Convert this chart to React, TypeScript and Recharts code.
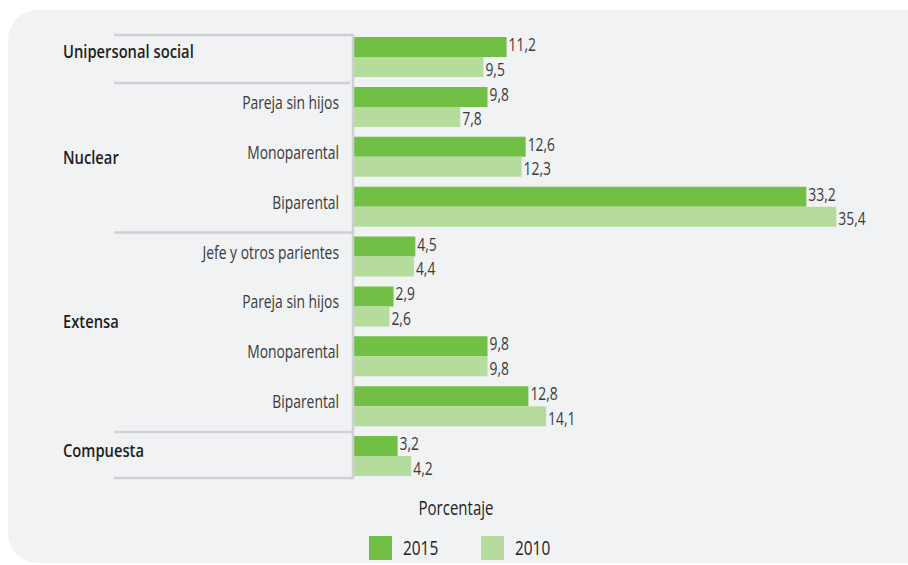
import React from "react";
import {
  BarChart,
  Bar,
  XAxis,
  YAxis,
  Legend,
  LabelList,
} from "recharts";

// rows from top to bottom
const groups = [
  "Unipersonal social",
  "Nuclear",
  "Nuclear",
  "Nuclear",
  "Extensa",
  "Extensa",
  "Extensa",
  "Extensa",
  "Compuesta",
];
const subtypes = [
  "",
  "Pareja sin hijos",
  "Monoparental",
  "Biparental",
  "Jefe y otros parientes",
  "Pareja sin hijos",
  "Monoparental",
  "Biparental",
  "",
];
const values2015 = [11.2, 9.8, 12.6, 33.2, 4.5, 2.9, 9.8, 12.8, 3.2];
const values2010 = [9.5, 7.8, 12.3, 35.4, 4.4, 2.6, 9.8, 14.1, 4.2];
const seriesNames = ["2015", "2010"];
const seriesColors = ["#71bf44", "#b6dc9d"];
const axisTitle = "Porcentaje";

const data = groups.map((g, i) => ({
  row: `r${i}`,
  group: g,
  subtype: subtypes[i],
  v2015: values2015[i],
  v2010: values2010[i],
}));

const W = 908;
const H = 565;
const PLOT_LEFT = 354;
const PLOT_TOP = 32;
const PLOT_H = 449;
const BAND = PLOT_H / data.length;
const LINE_X0 = 114;
const LINE_COLOR = "#cfd0d3";
const FONT = '"Open Sans", "Noto Sans", sans-serif';
const SX = 0.77; // squeeze to look like a condensed face
const SX_BOLD = 0.82;

// where the group name sits, relative to the anchor row's centre
const groupAnchor: Record<number, number> = { 0: 1.5, 2: 7.7, 5: 22, 8: 0.8 };

const fmt = (v: any) => String(v).replace(".", ",");

function Narrow(props: any) {
  const { x, y, anchor = "start", bold = false, size = 18, fill = "#333", children } = props;
  const s = bold ? SX_BOLD : SX;
  return (
    <text
      transform={`translate(${x},${y}) scale(${s},1)`}
      x={0}
      y={0}
      textAnchor={anchor}
      fill={fill}
      fontSize={size}
      fontWeight={bold ? 600 : 400}
      fontFamily={FONT}
    >
      {children}
    </text>
  );
}

function ValueLabel(props: any) {
  const { x, y, width, height, value, dy = 6 } = props;
  return (
    <Narrow x={x + width + 2} y={y + height / 2 + dy} size={18} fill="#3a3a3a">
      {fmt(value)}
    </Narrow>
  );
}

function RowTick(props: any) {
  const { x, y, payload } = props;
  const i = payload.index as number;
  const d = data[i];
  const top = y - BAND / 2;
  const isStart = i === 0 || groups[i] !== groups[i - 1];
  const isLast = i === data.length - 1;
  const axisX = PLOT_LEFT - 1;
  return (
    <g>
      {isStart && (
        <line
          x1={LINE_X0}
          x2={i === 1 ? axisX - 3 : axisX}
          y1={top + (i === 0 ? 3 : 1)}
          y2={top + (i === 0 ? 3 : 1)}
          stroke={LINE_COLOR}
          strokeWidth={2.5}
        />
      )}
      {isLast && (
        <line
          x1={LINE_X0}
          x2={axisX}
          y1={y + BAND / 2 - 3}
          y2={y + BAND / 2 - 3}
          stroke={LINE_COLOR}
          strokeWidth={2.5}
        />
      )}
      {i === 0 && (
        <line
          x1={axisX}
          x2={axisX}
          y1={top + 2}
          y2={top + data.length * BAND - 2}
          stroke={LINE_COLOR}
          strokeWidth={2.5}
        />
      )}
      {d.subtype && (
        <Narrow x={x - 7} y={y + 2} anchor="end" fill="#3a3a3a">
          {d.subtype}
        </Narrow>
      )}
      {groupAnchor[i] !== undefined && (
        <Narrow x={63} y={y + groupAnchor[i]} bold fill="#1e1e1e">
          {d.group}
        </Narrow>
      )}
    </g>
  );
}

function LegendBox() {
  return (
    <svg width={W} height={70} style={{ display: "block" }}>
      <Narrow x={456} y={21} anchor="middle" size={19.5} fill="#222">
        {axisTitle}
      </Narrow>
      {seriesNames.map((n, k) => (
        <g key={n} transform={`translate(${369 + k * 112},42)`}>
          <rect x={0} y={0} width={23} height={24} fill={seriesColors[k]} />
          <Narrow x={34} y={19} size={20} fill="#222">
            {n}
          </Narrow>
        </g>
      ))}
    </svg>
  );
}

export default function App() {
  return (
    <div style={{ position: "absolute", left: 0, top: 0, width: W, height: H, background: "#fff", overflow: "hidden" }}>
      <div
        style={{
          position: "absolute",
          left: 8,
          top: 10,
          width: 930,
          height: 553,
          background: "#f1f2f4",
          borderRadius: 30,
        }}
      />
      <div style={{ position: "absolute", left: 0, top: 0 }}>
        <BarChart
          width={W}
          height={H}
          data={data}
          layout="vertical"
          margin={{ top: PLOT_TOP, right: 9, bottom: H - PLOT_TOP - PLOT_H - 70, left: 0 }}
          barGap={0}
          barSize={20}
        >
          <XAxis type="number" domain={[0, 40]} hide />
          <YAxis
            type="category"
            dataKey="row"
            width={PLOT_LEFT}
            axisLine={false}
            tickLine={false}
            interval={0}
            tick={<RowTick />}
          />
          <Legend
            verticalAlign="bottom"
            content={<LegendBox />}
            wrapperStyle={{ position: "absolute", left: 0, top: 494, width: W, height: 70 }}
          />
          <Bar dataKey="v2015" name={seriesNames[0]} fill={seriesColors[0]} isAnimationActive={false}>
            <LabelList dataKey="v2015" content={<ValueLabel dy={4} />} />
          </Bar>
          <Bar dataKey="v2010" name={seriesNames[1]} fill={seriesColors[1]} isAnimationActive={false}>
            <LabelList dataKey="v2010" content={<ValueLabel dy={8.5} />} />
          </Bar>
        </BarChart>
      </div>
    </div>
  );
}
